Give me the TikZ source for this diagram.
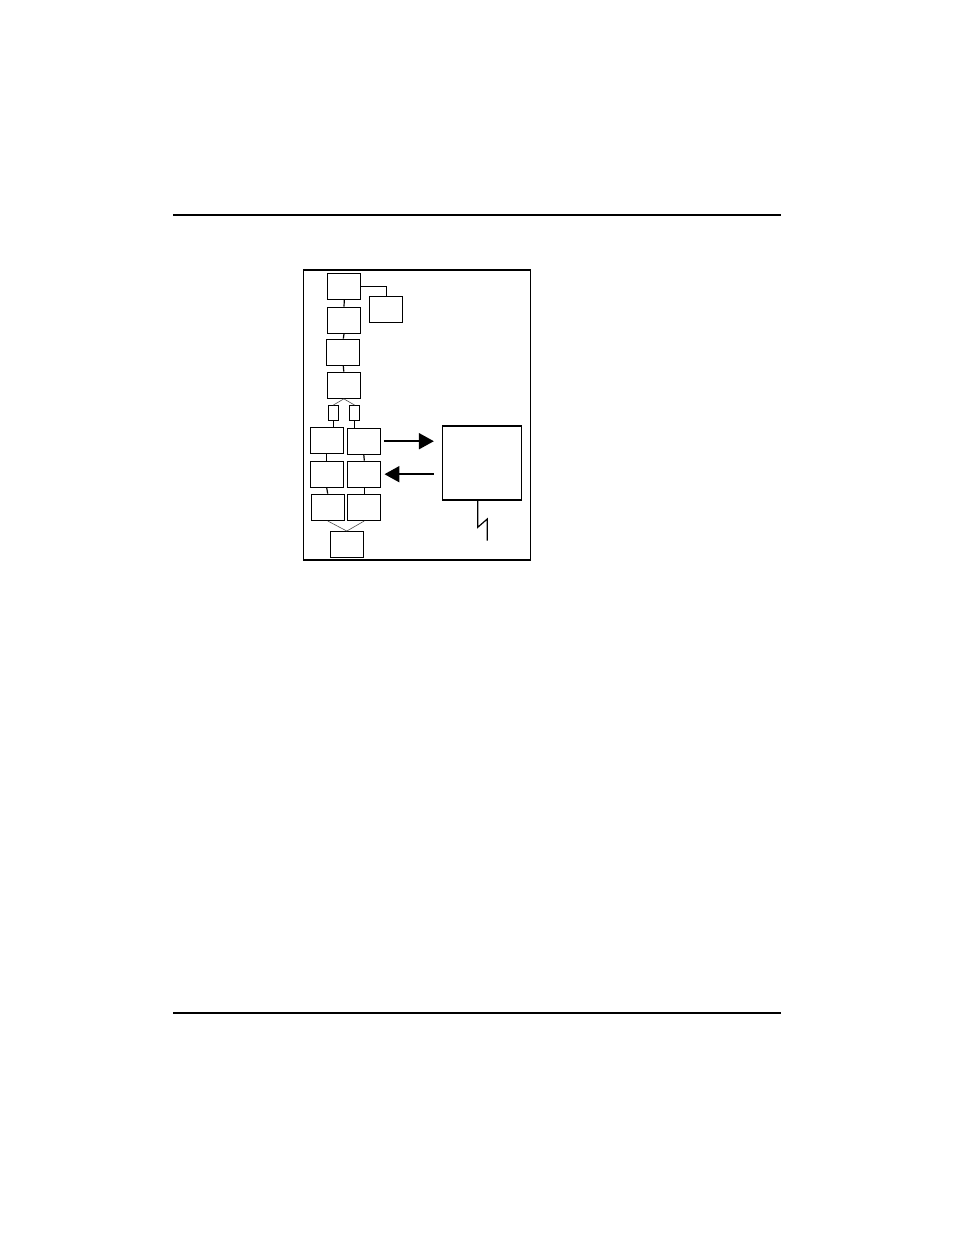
\documentclass[tikz,border=0pt]{standalone}
\usepackage{tikz}
\usetikzlibrary{arrows.meta}

\begin{document}
\begin{tikzpicture}[
    x=0.5pt, y=-0.5pt,
    blockWidth/.style={minimum width=16.5pt},
    blockHeight/.style={minimum height=13pt},
    block/.style={blockWidth, blockHeight, draw, line width=0.65pt, inner sep=0pt},
    tinyBlock/.style={minimum width=5pt, minimum height=7.5pt, draw, line width=0.6pt, inner sep=0pt},
    thinLink/.style={draw=black!70, line width=0.3pt},
    link/.style={line width=0.6pt},
    bigArrow/.style={-{Triangle[length=7.5pt, width=8pt]}, line width=1pt},
    every node/.style={
        text centered,
        }
        ]
    \useasboundingbox (0, 0) rectangle (954, 1235);

    % page rules
    \draw[line width=1pt] (173, 215) -- (780.7, 215);
    \draw[line width=1pt] (173, 1013) -- (780.7, 1013);

    % frame
    \draw[line width=0.6pt] (303.3, 270) rectangle (530.3, 560);
    \draw[line width=1pt] (303.3, 270) -- (530.3, 270);

    \node[block] (top) at (344.3, 286.3) {};
    \node[block] (side) at (386.3, 309.2) {};
    \node[block] (second) at (344, 320.3) {};
    \node[block] (third) at (343.3, 352.3) {};
    \node[block] (fourth) at (343.8, 385.2) {};

    \node[tinyBlock] (splitL) at (333.3, 413.2) {};
    \node[tinyBlock] (splitR) at (354.6, 413.2) {};

    \node[block] (rowAL) at (326.7, 440.7) {};
    \node[block] (rowAR) at (363.8, 441.2) {};
    \node[block] (rowBL) at (326.7, 474.2) {};
    \node[block] (rowBR) at (364.3, 474.2) {};
    \node[block] (rowCL) at (327.7, 507.3) {};
    \node[block] (rowCR) at (364.3, 507.3) {};

    \node[block] (bottom) at (346.8, 544.7) {};

    \node[draw, line width=0.65pt, minimum width=39.5pt, minimum height=37pt, inner sep=0pt] (remote) at (482, 463) {};

    \draw[link] (top.east) -| (side.north);
    \draw[link] (top.south) -- (second.north);
    \draw[link] (second.south) -- (third.north);
    \draw[link] (third.south) -- (fourth.north);

    \draw[thinLink] (fourth.south) -- (splitL.north);
    \draw[thinLink] (fourth.south) -- (splitR.north);
    \draw[link] (splitL.south) -- (splitL.south |- rowAL.north);
    \draw[link] (splitR.south) -- (splitR.south |- rowAR.north);

    \draw[link] (rowAL.south) -- (rowBL.north);
    \draw[link] (rowAR.south) -- (rowBR.north);
    \draw[link] (rowBL.south) -- (rowCL.north);
    \draw[link] (rowBR.south) -- (rowCR.north);

    \draw[thinLink] (rowCL.south) -- (bottom.north);
    \draw[thinLink] (rowCR.south) -- (bottom.north);

    \draw[bigArrow, shorten <=1.5pt, shorten >=4pt] (rowAR.east) -- (rowAR.east -| remote.west);
    \draw[bigArrow, shorten <=4pt, shorten >=1.5pt] (rowBR.east -| remote.west) -- (rowBR.east);

    \draw[link] ([xshift=-2.15pt]remote.south) -- ++(0, 26.7) -- ++(9.6, -8.4) -- ++(0, 21.7);
\end{tikzpicture}
\end{document}
